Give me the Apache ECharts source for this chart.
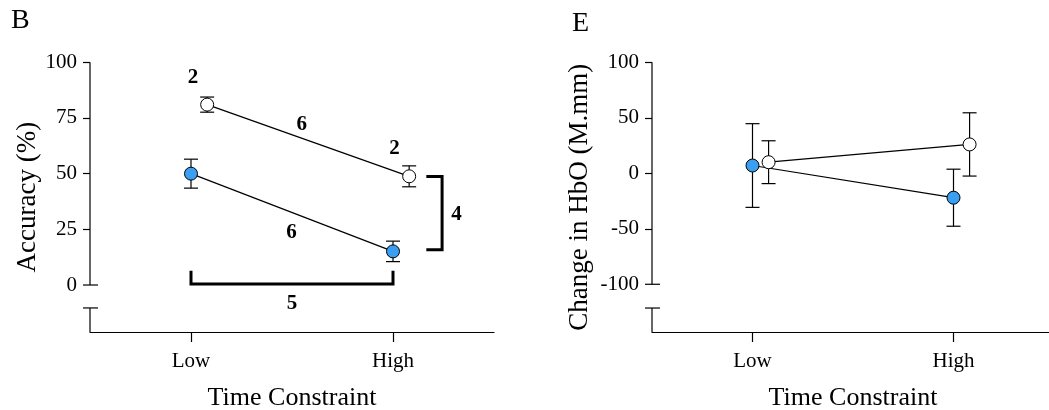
<!DOCTYPE html>
<html>
<head>
<meta charset="utf-8">
<title>Accuracy and HbO change by time constraint</title>
<script src="https://cdn.jsdelivr.net/npm/echarts@6.0.0/dist/echarts.min.js"></script>
<style>
  html, body { margin: 0; padding: 0; background: #fff; }
  #chart { width: 1049px; height: 410px; }
</style>
</head>
<body>
<div id="chart"></div>
<script>
// x categories (Low = 0, High = 1 on the value x axis)
var categories = ['Low', 'High']

// panel B: accuracy (%)
var accBlue = [50, 15.1]
var accBlueErr = [6.5, 4.6]
var accWhite = [81, 48.8]
var accWhiteErr = [3.4, 4.7]
var accTicks = [0, 25, 50, 75, 100]

// panel E: change in HbO (M.mm)
var hboBlue = [7, -22]
var hboBlueErr = [37.7, 25.7]
var hboWhite = [10, 26]
var hboWhiteErr = [19.3, 28.5]
var hboTicks = [-100, -50, 0, 50, 100]

// significance numbers and brackets on panel B: [x, y, text]
var accNotes = [[0.01, 93.2, '2'], [0.548, 72.2, '6'], [1.008, 61.4, '2'], [0.498, 23.6, '6'], [0.5, -8.4, '5'], [1.314, 31.8, '4']]
var bracketLowHigh = [[0, 6.4], [0, 0.5], [1, 0.5], [1, 6.4]]
var bracketGroups = [[1.165, 48.7], [1.243, 48.7], [1.243, 15.8], [1.165, 15.8]]

var FONT = '"Liberation Serif", "Times New Roman", serif'
var BLUE = '#3a9ff2'
var DODGE = 0.08 // white circles sit a little right of the tick
var AXIS_STYLE = { color: '#000', width: 1.2 }

function pts (ys, shift) {
  return ys.map(function (y, i) { return [i + shift, y] })
}
function errRows (ys, errs, shift) {
  return ys.map(function (y, i) { return [i + shift, y, errs[i]] })
}

function renderErr (params, api) {
  var x = api.value(0)
  var y = api.value(1)
  var e = api.value(2)
  var top = api.coord([x, y + e])
  var bot = api.coord([x, y - e])
  var st = { stroke: '#000', lineWidth: 1.2 }
  return {
    type: 'group',
    children: [
      { type: 'line', shape: { x1: top[0], y1: top[1], x2: bot[0], y2: bot[1] }, style: st },
      { type: 'line', shape: { x1: top[0] - 7, y1: top[1], x2: top[0] + 7, y2: top[1] }, style: st },
      { type: 'line', shape: { x1: bot[0] - 7, y1: bot[1], x2: bot[0] + 7, y2: bot[1] }, style: st }
    ]
  }
}

// y axis drawn in two pieces with a break just below the lowest tick
function brokenAxis (idx, xMin, yTop, yLow, yBreak, yMin) {
  return {
    type: 'custom',
    xAxisIndex: idx,
    yAxisIndex: idx,
    silent: true,
    clip: false,
    z: 1,
    data: [[xMin, yLow]],
    renderItem: function (params, api) {
      var a = api.coord([xMin, yTop])
      var b = api.coord([xMin, yLow])
      var c = api.coord([xMin, yBreak])
      var d = api.coord([xMin, yMin])
      var st = { stroke: '#000', lineWidth: 1.2 }
      return {
        type: 'group',
        children: [
          { type: 'line', shape: { x1: a[0], y1: a[1], x2: b[0], y2: b[1] }, style: st },
          { type: 'line', shape: { x1: b[0] - 7, y1: b[1], x2: b[0] + 8, y2: b[1] }, style: st },
          { type: 'line', shape: { x1: c[0] - 7, y1: c[1], x2: c[0] + 8, y2: c[1] }, style: st },
          { type: 'line', shape: { x1: c[0], y1: c[1], x2: d[0], y2: d[1] }, style: st }
        ]
      }
    }
  }
}

function errSeries (idx, rows) {
  return { type: 'custom', xAxisIndex: idx, yAxisIndex: idx, clip: false, z: 2, data: rows, renderItem: renderErr }
}

function pointSeries (idx, data, fill) {
  return {
    type: 'line',
    xAxisIndex: idx,
    yAxisIndex: idx,
    data: data,
    symbol: 'circle',
    symbolSize: 13,
    z: 3,
    itemStyle: { color: fill, borderColor: '#000', borderWidth: 1 },
    lineStyle: { color: '#000', width: 1.2 }
  }
}

function bracketSeries (data) {
  return {
    type: 'line',
    data: data,
    symbol: 'none',
    z: 4,
    lineStyle: { color: '#000', width: 3, join: 'miter' }
  }
}

function xAxisCfg (idx) {
  return {
    type: 'value',
    gridIndex: idx,
    min: -0.5,
    max: 1.5,
    name: 'Time Constraint',
    nameLocation: 'middle',
    nameGap: 53,
    nameTextStyle: { fontFamily: FONT, fontSize: 26, color: '#000' },
    axisLine: { onZero: false, lineStyle: AXIS_STYLE },
    axisTick: { length: 10, customValues: [0, 1], lineStyle: AXIS_STYLE },
    axisLabel: {
      customValues: [0, 1],
      margin: 19,
      fontFamily: FONT,
      fontSize: 21,
      color: '#000',
      formatter: function (v) { return categories[Math.round(v)] }
    },
    splitLine: { show: false }
  }
}

function yAxisCfg (idx, min, max, ticks, name, gap) {
  return {
    type: 'value',
    gridIndex: idx,
    min: min,
    max: max,
    name: name,
    nameLocation: 'middle',
    nameGap: gap,
    nameTextStyle: { fontFamily: FONT, fontSize: 27, color: '#000' },
    axisLine: { show: false, onZero: false },
    splitLine: { show: false },
    axisTick: { length: 7, customValues: ticks.slice(1), lineStyle: AXIS_STYLE },
    axisLabel: { customValues: ticks, margin: 13, fontFamily: FONT, fontSize: 21, color: '#000' }
  }
}

var chart = echarts.init(document.getElementById('chart'))
chart.setOption({
  animation: false,
  backgroundColor: '#fff',
  textStyle: { fontFamily: FONT },
  title: [
    { text: 'B', left: 6, top: 2, textStyle: { fontFamily: FONT, fontSize: 28, fontWeight: 'normal', color: '#000' } },
    { text: 'E', left: 567, top: 5, textStyle: { fontFamily: FONT, fontSize: 28, fontWeight: 'normal', color: '#000' } }
  ],
  grid: [
    { left: 90, top: 62.3, width: 404, height: 269.7, outerBoundsMode: 'none' },
    { left: 652, top: 62.3, width: 402, height: 269.7, outerBoundsMode: 'none' }
  ],
  xAxis: [xAxisCfg(0), xAxisCfg(1)],
  yAxis: [
    yAxisCfg(0, -21.1, 100, accTicks, 'Accuracy (%)', 49),
    yAxisCfg(1, -143, 100, hboTicks, 'Change in HbO (M.mm)', 59)
  ],
  series: [
    brokenAxis(0, -0.5, 100, 0, -10.3, -21.1),
    errSeries(0, errRows(accBlue, accBlueErr, 0)),
    errSeries(0, errRows(accWhite, accWhiteErr, DODGE)),
    pointSeries(0, pts(accBlue, 0), BLUE),
    pointSeries(0, pts(accWhite, DODGE), '#fff'),
    bracketSeries(bracketLowHigh),
    bracketSeries(bracketGroups),
    {
      type: 'custom',
      clip: false,
      z: 5,
      data: accNotes.map(function (n) { return [n[0], n[1]] }),
      renderItem: function (params, api) {
        var p = api.coord([api.value(0), api.value(1)])
        return {
          type: 'text',
          x: p[0],
          y: p[1],
          style: {
            text: accNotes[params.dataIndex][2],
            font: 'bold 21px ' + FONT,
            fill: '#000',
            textAlign: 'center',
            textVerticalAlign: 'middle'
          }
        }
      }
    },
    brokenAxis(1, -0.5, 100, -100, -121.4, -143),
    errSeries(1, errRows(hboBlue, hboBlueErr, 0)),
    errSeries(1, errRows(hboWhite, hboWhiteErr, DODGE)),
    pointSeries(1, pts(hboBlue, 0), BLUE),
    pointSeries(1, pts(hboWhite, DODGE), '#fff')
  ]
})
</script>
</body>
</html>
